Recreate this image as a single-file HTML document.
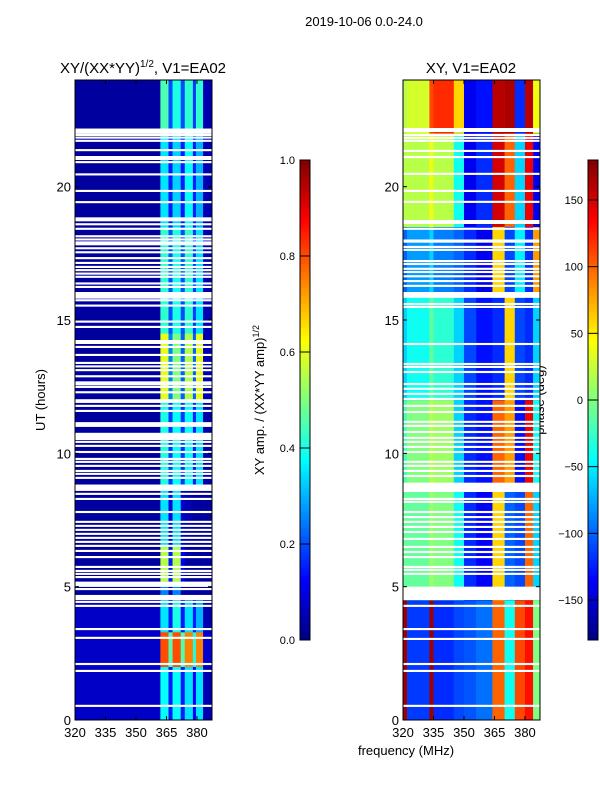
<!DOCTYPE html>
<html><head><meta charset="utf-8"><style>
html,body{margin:0;padding:0;background:#fff;}
svg{display:block;font-family:"Liberation Sans",sans-serif;}
</style></head><body>
<svg id="fig" width="600" height="800" viewBox="0 0 600 800">
<text x="364" y="26" font-size="13" text-anchor="middle">2019-10-06 0.0-24.0</text>
<text x="143" y="73" font-size="15" text-anchor="middle">XY/(XX*YY)<tspan font-size="10" dy="-6">1/2</tspan><tspan dy="6">, V1=EA02</tspan></text>
<text x="471" y="73" font-size="15" text-anchor="middle">XY, V1=EA02</text>
<text transform="translate(45,400) rotate(-90)" font-size="13" text-anchor="middle">UT (hours)</text>
<text transform="translate(264,400) rotate(-90)" font-size="13" text-anchor="middle">XY amp. / (XX*YY amp)<tspan font-size="9" dy="-5">1/2</tspan></text>
<text transform="translate(544,400) rotate(-90)" font-size="13" text-anchor="middle">phase (deg)</text>
<text x="406" y="755" font-size="13" text-anchor="middle">frequency (MHz)</text>
<g id="left"></g>
<g id="right"></g>
<g id="axes"></g>
</svg>
<script>
const xTicks=[320,335,350,365,380];
const yTicks=[0,5,10,15,20];
const ampTicks=[0.0,0.2,0.4,0.6,0.8,1.0];
const phaseTicks=[-150,-100,-50,0,50,100,150];
const ampEdges=[320,362,366,368,372,374,378,379.5,383,388];
const ampSegStart=[0,2,3.3,4.5,5.2,6.5,8.8,12,14.5,18.5,22];
const ampSegEnd=[2,3.3,4.5,5.2,6.5,8.8,12,14.5,18.5,22,24];
const ampValues=[
[0.07,0.38,0.15,0.38,0.15,0.35,0.12,0.35,0.05],
[0.07,0.8,0.45,0.8,0.45,0.75,0.4,0.75,0.08],
[0.07,0.35,0.15,0.4,0.15,0.35,0.15,0.3,0.05],
[0.03,0.25,0.05,0.25,0.05,0.03,0.03,0.03,0.03],
[0.03,0.55,0.15,0.55,0.12,0.03,0.03,0.03,0.03],
[0.03,0.35,0.1,0.35,0.08,0.05,0.03,0.03,0.03],
[0.03,0.4,0.18,0.38,0.18,0.38,0.15,0.35,0.04],
[0.03,0.6,0.25,0.5,0.22,0.55,0.22,0.6,0.05],
[0.03,0.42,0.2,0.4,0.2,0.42,0.18,0.35,0.05],
[0.03,0.35,0.15,0.33,0.15,0.38,0.15,0.3,0.05],
[0.03,0.45,0.2,0.4,0.2,0.42,0.18,0.42,0.05]];
const phaseEdges=[320,322,333,335,345,350,356,364,370,375,380,384,388];
const phaseSegStart=[0,4.5,8.8,12,16,18.5,22];
const phaseSegEnd=[4.5,8.8,12,16,18.5,22,24];
const phaseValues=[
[170,-115,170,-120,-110,-105,-95,100,-40,110,130,0],
[-10,-10,10,0,-40,-120,-135,60,-100,-110,100,-60],
[-20,0,20,10,-60,-120,-130,100,80,-130,140,-40],
[-60,-40,-10,-30,-60,-110,-130,-120,60,-110,-120,-60],
[-100,-80,-60,-90,-100,-120,-140,60,-110,-50,-120,80],
[20,20,40,20,-40,-140,-120,150,100,-60,140,-140],
[20,30,110,120,60,-140,-130,160,165,-120,160,40]];
const ampFlagHours=[21.98,21.9,21.8,21.68,21.33,21.0,20.88,20.42,19.8,19.38,18.7,18.55,18.38,18.1,17.98,17.8,17.65,17.5,17.28,17.1,16.95,16.83,16.7,16.58,16.33,16.2,15.8,15.7,15.5,14.9,14.7,14.1,13.95,13.65,13.35,13.22,13.08,12.85,12.55,12.45,12.25,11.95,11.89,11.74,11.55,11.05,10.99,10.5,10.39,10.24,10.01,9.75,9.64,9.49,9.3,9.19,9.04,8.59,8.44,8.25,7.76,7.39,7.24,7.09,6.94,6.79,6.64,6.49,6.3,6.07,5.7,5.55,5.44,5.32,5.06,4.99,4.87,4.5,4.39,4.24,3.37,3.04,2.06,1.8,0.49];
const ampFlagDur=[0.2,0.08,0.08,0.08,0.08,0.15,0.08,0.08,0.08,0.08,0.15,0.08,0.08,0.08,0.08,0.15,0.08,0.08,0.08,0.08,0.08,0.08,0.08,0.08,0.08,0.08,0.25,0.08,0.08,0.08,0.08,0.15,0.08,0.08,0.08,0.08,0.08,0.08,0.15,0.08,0.08,0.08,0.08,0.08,0.08,0.12,0.08,0.27,0.08,0.08,0.08,0.08,0.08,0.08,0.08,0.08,0.08,0.24,0.08,0.08,0.08,0.08,0.08,0.08,0.08,0.08,0.08,0.08,0.08,0.08,0.08,0.08,0.08,0.08,0.13,0.08,0.08,0.19,0.08,0.08,0.08,0.08,0.08,0.08,0.08];
const phaseFlagHours=[22.05,21.9,21.79,21.68,21.3,21.07,20.44,19.8,19.39,18.6,18.38,17.9,17.7,17.59,17.17,17.06,16.88,16.76,16.6,16.42,16.24,15.83,15.56,15.45,14.06,13.31,13.2,13.01,12.56,12.38,12.19,12.0,11.74,11.51,11.14,10.99,10.76,10.54,10.39,10.2,10.01,9.64,9.49,9.3,9.11,8.55,8.25,8.14,7.76,7.57,7.39,7.2,7.01,6.75,6.45,6.26,6.07,5.7,5.59,5.44,4.5,4.24,3.37,3.0,2.06,1.8,0.49];
const phaseFlagDur=[0.15,0.08,0.08,0.08,0.08,0.08,0.08,0.08,0.08,0.15,0.08,0.12,0.08,0.08,0.08,0.08,0.08,0.08,0.08,0.08,0.08,0.22,0.08,0.08,0.08,0.08,0.08,0.08,0.08,0.08,0.08,0.08,0.08,0.08,0.08,0.08,0.08,0.08,0.08,0.08,0.08,0.08,0.08,0.08,0.08,0.35,0.08,0.08,0.08,0.08,0.08,0.08,0.08,0.08,0.08,0.08,0.08,0.08,0.08,0.08,0.5,0.08,0.08,0.08,0.08,0.08,0.08];

const NS='http://www.w3.org/2000/svg';
const B=720,FMIN=320,FMAX=387.4;
function yH(h){return B-(h/24)*(B-80);}
function xF(f,x0){return x0+(f-FMIN)/(FMAX-FMIN)*137;}
function clamp(v){return Math.max(0,Math.min(1,v));}
function jet(t){
  t=clamp(t);
  const r=clamp(Math.min(4*t-1.5,-4*t+4.5));
  const g=clamp(Math.min(4*t-0.5,-4*t+3.5));
  const b=clamp(Math.min(4*t+0.5,-4*t+2.5));
  return 'rgb('+Math.round(r*255)+','+Math.round(g*255)+','+Math.round(b*255)+')';
}
function mk(tag,attrs,parent){const e=document.createElementNS(NS,tag);for(const k in attrs)e.setAttribute(k,attrs[k]);parent.appendChild(e);return e;}

function drawHeat(g,x0,edges,segS,segE,vals,norm,flagH,flagD,name){
  for(let s=0;s<segS.length;s++){
    for(let b=0;b<edges.length-1;b++){
      const xa=xF(edges[b],x0),xb=Math.min(xF(edges[b+1],x0),x0+137);
      const ya=yH(segE[s]),yb=yH(segS[s]);
      const r=mk('rect',{x:xa,y:ya,width:xb-xa+0.3,height:yb-ya+0.3,fill:jet(norm(vals[s][b]))},g);
      
      
    }
  }
  for(let i=0;i<flagH.length;i++){
    const ya=yH(flagH[i]+flagD[i]),yb=yH(flagH[i]);
    const r=mk('rect',{x:x0,y:ya,width:137,height:Math.max(1.8,yb-ya),fill:'#fff'},g);
    
    
  }
}
drawHeat(document.getElementById('left'),75,ampEdges,ampSegStart,ampSegEnd,ampValues,v=>v,ampFlagHours,ampFlagDur,'amp');
drawHeat(document.getElementById('right'),403,phaseEdges,phaseSegStart,phaseSegEnd,phaseValues,v=>(v+180)/360,phaseFlagHours,phaseFlagDur,'phase');

const ax=document.getElementById('axes');
[75,403].forEach((x0,pi)=>{
  const f=mk('rect',{x:x0,y:80,width:137,height:640,fill:'none',stroke:'#000','stroke-width':1},ax);
  
  
  xTicks.forEach(v=>{
    const x=xF(v,x0);
    mk('line',{x1:x,x2:x,y1:720,y2:716,stroke:'#000'},ax);
    mk('line',{x1:x,x2:x,y1:80,y2:84,stroke:'#000'},ax);
    const t=mk('text',{x:x,y:737,'font-size':13,'text-anchor':'middle'},ax);
    t.textContent=v;
    
    
  });
  yTicks.forEach(v=>{
    const y=yH(v);
    mk('line',{x1:x0,x2:x0+4,y1:y,y2:y,stroke:'#000'},ax);
    mk('line',{x1:x0+137,x2:x0+133,y1:y,y2:y,stroke:'#000'},ax);
    const t=mk('text',{x:x0-4,y:y+5,'font-size':13,'text-anchor':'end'},ax);
    t.textContent=v;
    
    
  });
});
function colorbar(x0,ticks,vmin,vmax,labelX,anchor,fmt,name){
  const g=mk('g',{},ax);
  
  
  const n=120;
  for(let i=0;i<n;i++){
    const t=i/n;
    mk('rect',{x:x0,y:640-(i+1)*480/n,width:10,height:480/n+0.5,fill:jet(t+0.5/n)},g);
  }
  mk('rect',{x:x0,y:160,width:10,height:480,fill:'none',stroke:'#000'},g);
  ticks.forEach(v=>{
    const y=640-(v-vmin)/(vmax-vmin)*480;
    mk('line',{x1:x0,x2:x0+10,y1:y,y2:y,stroke:'#000'},g);
    const t=mk('text',{x:labelX,y:y+4,'font-size':11,'text-anchor':anchor},g);
    t.textContent=fmt(v);
    
    
  });
}
colorbar(300,ampTicks,0,1,295,'end',v=>v.toFixed(1),'amp-colorbar');
colorbar(588,phaseTicks,-180,180,583,'end',v=>(v<0?'\u2212'+(-v):''+v),'phase-colorbar');
</script>
</body></html>
